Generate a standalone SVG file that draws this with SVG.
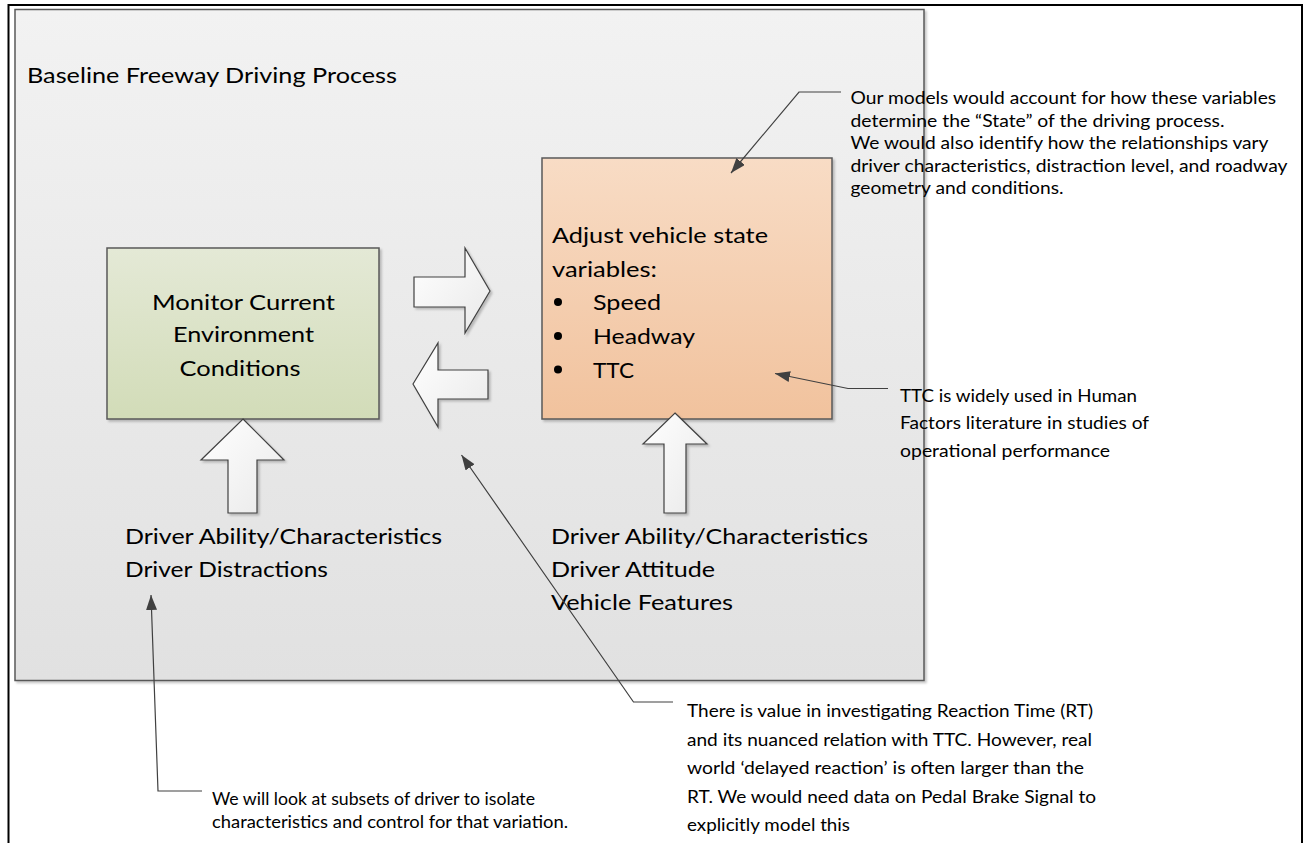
<svg xmlns="http://www.w3.org/2000/svg" width="1304" height="843" viewBox="0 0 1304 843">
<defs>
<style>
text{font-family:Lato,"Liberation Sans",sans-serif;fill:#000}
.big{font-size:22px}
.note{font-size:16.5px}
.box{stroke:#595959;stroke-width:1.5}
.blk{fill:url(#gArrow);stroke:#404040;stroke-width:1.2;stroke-linejoin:miter}
.call{fill:none;stroke:#404040;stroke-width:1.2}
</style>
<linearGradient id="gBg" x1="0" y1="0" x2="0" y2="1"><stop offset="0" stop-color="#f2f2f2"/><stop offset="1" stop-color="#e1e1e1"/></linearGradient>
<linearGradient id="gGreen" x1="0" y1="0" x2="0" y2="1"><stop offset="0" stop-color="#e4e9d6"/><stop offset="1" stop-color="#d2dcb8"/></linearGradient>
<linearGradient id="gOrange" x1="0" y1="0" x2="0" y2="1"><stop offset="0" stop-color="#f8dcc5"/><stop offset="1" stop-color="#f1c29d"/></linearGradient>
<linearGradient id="gArrow" x1="0" y1="0" x2="1" y2="1"><stop offset="0" stop-color="#ffffff"/><stop offset="1" stop-color="#e9e9e9"/></linearGradient>
<filter id="sh" x="-10%" y="-10%" width="130%" height="130%"><feDropShadow dx="2" dy="2" stdDeviation="1.2" flood-color="#000" flood-opacity="0.22"/></filter>
<marker id="ah" markerUnits="userSpaceOnUse" markerWidth="16" markerHeight="12" refX="15" refY="5.5" orient="auto-start-reverse"><path d="M0,0 L15,5.5 L0,11 z" fill="#404040"/></marker>
</defs>
<rect width="1304" height="843" fill="#ffffff"/>
<path d="M8.5,843 V5 H1302 V843" fill="none" stroke="#000" stroke-width="2"/>

<g id="process">
<rect class="box" x="15" y="9.5" width="909" height="671" fill="url(#gBg)" filter="url(#sh)"/>
<text class="big" x="27" y="83" textLength="370" lengthAdjust="spacingAndGlyphs">Baseline Freeway Driving Process</text>
</g>

<g id="monitor">
<rect class="box" x="107" y="248" width="272" height="171" fill="url(#gGreen)" filter="url(#sh)"/>
<text class="big" x="152" y="310" textLength="183" lengthAdjust="spacingAndGlyphs">Monitor Current</text>
<text class="big" x="173" y="342" textLength="141" lengthAdjust="spacingAndGlyphs">Environment</text>
<text class="big" x="179.5" y="376" textLength="121" lengthAdjust="spacingAndGlyphs">Conditions</text>
</g>

<g id="adjust">
<rect class="box" x="542" y="158" width="290" height="261" fill="url(#gOrange)" filter="url(#sh)"/>
<text class="big" x="552" y="243" textLength="216" lengthAdjust="spacingAndGlyphs">Adjust vehicle state</text>
<text class="big" x="552" y="277" textLength="105" lengthAdjust="spacingAndGlyphs">variables:</text>
<circle cx="558" cy="302" r="4"/>
<circle cx="558" cy="336" r="4"/>
<circle cx="558" cy="369.5" r="4"/>
<text class="big" x="593" y="310" textLength="68" lengthAdjust="spacingAndGlyphs">Speed</text>
<text class="big" x="593" y="343.5" textLength="102" lengthAdjust="spacingAndGlyphs">Headway</text>
<text class="big" x="593" y="377.5" textLength="41" lengthAdjust="spacingAndGlyphs">TTC</text>
</g>

<g id="arrow-right"><polygon class="blk" filter="url(#sh)" points="414,277 465,277 465,248 490,291 465,333 465,307 414,307"/></g>
<g id="arrow-left"><polygon class="blk" filter="url(#sh)" points="413,384 438,343 438,370 488,370 488,399 438,399 438,427"/></g>
<g id="arrow-up-left"><polygon class="blk" filter="url(#sh)" points="243,419 284,460 257,460 257,513 228,513 228,460 201,460"/></g>
<g id="arrow-up-right"><polygon class="blk" filter="url(#sh)" points="675,413 707,444 686,444 686,513 664,513 664,444 643,444"/></g>

<g id="inputs-left">
<text class="big" x="125" y="544" textLength="317" lengthAdjust="spacingAndGlyphs">Driver Ability/Characteristics</text>
<text class="big" x="125" y="577" textLength="203" lengthAdjust="spacingAndGlyphs">Driver Distractions</text>
</g>

<g id="inputs-right">
<text class="big" x="551" y="544" textLength="317" lengthAdjust="spacingAndGlyphs">Driver Ability/Characteristics</text>
<text class="big" x="551" y="577" textLength="164" lengthAdjust="spacingAndGlyphs">Driver Attitude</text>
<text class="big" x="551" y="610" textLength="182" lengthAdjust="spacingAndGlyphs">Vehicle Features</text>
</g>

<g id="connectors">
<polyline class="call" marker-start="url(#ah)" points="731,173 799,92 841,92"/>
<polyline class="call" marker-start="url(#ah)" points="775,373.5 848,388.5 888,388.5"/>
<polyline class="call" marker-start="url(#ah)" points="461.5,455 633.5,702 673,702"/>
<polyline class="call" marker-start="url(#ah)" points="151,595 158,791 202,791"/>
</g>

<g id="note-state">
<text class="note" x="850.5" y="104" textLength="425.6" lengthAdjust="spacingAndGlyphs">Our models would account for how these variables</text>
<text class="note" x="850.5" y="126.6" textLength="374" lengthAdjust="spacingAndGlyphs">determine the “State” of the driving process.</text>
<text class="note" x="850.5" y="149.2" textLength="418" lengthAdjust="spacingAndGlyphs">We would also identify how the relationships vary</text>
<text class="note" x="850.5" y="171.8" textLength="437" lengthAdjust="spacingAndGlyphs">driver characteristics, distraction level, and roadway</text>
<text class="note" x="850.5" y="194.4" textLength="213" lengthAdjust="spacingAndGlyphs">geometry and conditions.</text>
</g>

<g id="note-ttc">
<text class="note" x="900" y="401.7" textLength="237" lengthAdjust="spacingAndGlyphs">TTC is widely used in Human</text>
<text class="note" x="900" y="429.4" textLength="249" lengthAdjust="spacingAndGlyphs">Factors literature in studies of</text>
<text class="note" x="900" y="457" textLength="210" lengthAdjust="spacingAndGlyphs">operational performance</text>
</g>

<g id="note-rt">
<text class="note" x="687" y="717" textLength="406" lengthAdjust="spacingAndGlyphs">There is value in investigating Reaction Time (RT)</text>
<text class="note" x="687" y="745.6" textLength="405" lengthAdjust="spacingAndGlyphs">and its nuanced relation with TTC. However, real</text>
<text class="note" x="687" y="774.2" textLength="397" lengthAdjust="spacingAndGlyphs">world ‘delayed reaction’ is often larger than the</text>
<text class="note" x="687" y="802.8" textLength="409" lengthAdjust="spacingAndGlyphs">RT. We would need data on Pedal Brake Signal to</text>
<text class="note" x="687" y="831.4" textLength="163" lengthAdjust="spacingAndGlyphs">explicitly model this</text>
</g>

<g id="note-driver">
<text class="note" x="212" y="805" textLength="323" lengthAdjust="spacingAndGlyphs">We will look at subsets of driver to isolate</text>
<text class="note" x="212" y="828" textLength="356" lengthAdjust="spacingAndGlyphs">characteristics and control for that variation.</text>
</g>
</svg>
